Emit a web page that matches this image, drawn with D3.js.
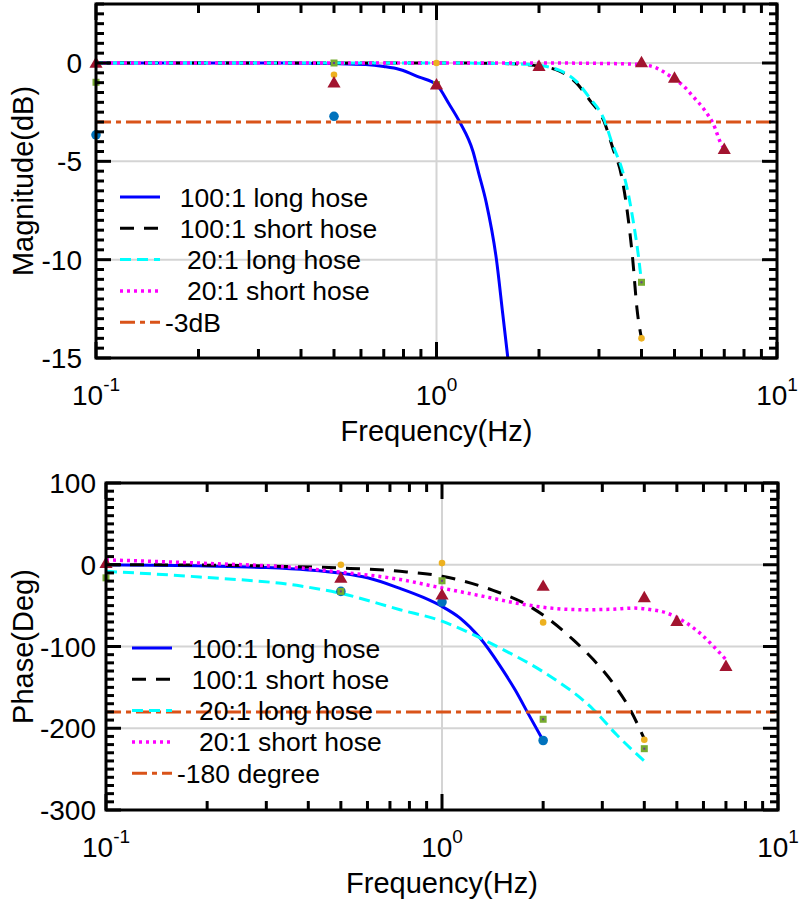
<!DOCTYPE html>
<html><head><meta charset="utf-8">
<script src="https://d3js.org/d3.v7.min.js"></script>
<style>
body{margin:0;background:#fff;}
text{font-family:"Liberation Sans",Arial,sans-serif;fill:#000;}
</style></head>
<body><svg id="chart" width="800" height="899"></svg>
<script>
// ---------------- DATA ----------------
const xTickVals = [0.1, 1, 10];
const xTickLabels = [["10","-1"],["10","0"],["10","1"]];
const magTicks = [0, -5, -10, -15];
const phaseTicks = [100, 0, -100, -200, -300];
const legendMag = ["  100:1 long hose", "  100:1 short hose", "   20:1 long hose", "   20:1 short hose", "-3dB"];
const legendPhase = ["  100:1 long hose", "  100:1 short hose", "   20:1 long hose", "   20:1 short hose", "-180 degree"];

// Magnitude model curves (Hz, dB)
const magF100L = [0.1, 0.2, 0.3, 0.4, 0.5, 0.62, 0.7, 0.78, 0.89, 1.0, 1.09, 1.17, 1.28, 1.33, 1.4, 1.5, 1.565, 1.62];
const magV100L = [0, 0, 0, -0.01, -0.03, -0.08, -0.18, -0.33, -0.72, -1.1, -2.1, -3.0, -4.5, -5.6, -7.1, -10.0, -12.75, -15];
const magF100S = [0.1, 0.5, 1.0, 1.5, 1.8, 2.0, 2.3, 2.57, 2.81, 3.11, 3.29, 3.49, 3.61, 3.77, 3.88, 4.0];
const magV100S = [0, 0, 0, -0.02, -0.07, -0.16, -0.42, -1.0, -1.86, -3.0, -4.3, -5.7, -7.2, -10.0, -12.5, -14.0];
const magF20L = [0.1, 0.5, 1.0, 1.5, 1.8, 2.0, 2.3, 2.57, 2.81, 3.11, 3.29, 3.49, 3.61, 3.77, 3.93, 4.0];
const magV20L = [0, 0, 0, -0.02, -0.06, -0.12, -0.38, -0.92, -1.75, -2.9, -4.15, -5.3, -6.2, -7.9, -10.0, -11.15];
const magF20S = [0.1, 1, 2, 3, 3.5, 4.0, 4.42, 4.94, 5.3, 5.66, 6.1, 6.48, 6.93, 7.0];
const magV20S = [0, 0, 0, -0.02, -0.04, -0.08, -0.25, -0.76, -1.15, -1.69, -2.35, -3.05, -4.24, -4.3];
const magRefLevel = -3;

// Magnitude measured points
const magBlueF = [0.1, 0.5];            const magBlueV = [-3.65, -2.71];
const magOrangeF = [0.5, 1.0, 4.0];     const magOrangeV = [-0.6, 0, -14.0];
const magGreenF = [0.1, 0.5, 1.0, 4.0]; const magGreenV = [-0.98, 0, -1.1, -11.15];
const magTriF = [0.1, 0.5, 1.0, 2.0, 4.0, 5.0, 7.0];
const magTriV = [0, -1.0, -1.1, -0.16, 0.03, -0.76, -4.38];

// Phase model curves (Hz, deg)
const phF100L = [0.1, 0.2, 0.3, 0.4, 0.5, 0.6, 0.75, 0.88, 1.0, 1.13, 1.3, 1.49, 1.65, 1.81, 2.0];
const phV100L = [0, -1.5, -3.5, -6.5, -10.5, -16, -29, -40, -51, -65, -90, -124, -153, -183, -215];
const phF100S = [0.1, 0.2, 0.3, 0.5, 0.75, 1.0, 1.39, 1.79, 2.1, 2.46, 2.82, 3.23, 3.63, 4.0];
const phV100S = [0, -0.5, -1.5, -4, -8, -14, -30, -49, -68, -92, -116, -145, -177, -213];
const phF20L = [0.1, 0.19, 0.38, 0.5, 0.75, 1.0, 1.21, 1.49, 2.0, 2.82, 3.31, 4.0];
const phV20L = [-8, -15, -26, -35, -55, -69, -83.5, -102, -131, -177, -208, -240];
const phF20S = [0.1, 0.19, 0.38, 0.5, 0.75, 1.0, 1.33, 1.67, 2.1, 2.64, 3.2, 3.71, 4.2, 4.66, 5.23, 5.87, 6.4, 7.0];
const phV20S = [6, 2, -4, -9, -18, -28.5, -38.7, -47, -53, -55, -54.5, -53, -55, -59, -69, -84, -99, -116];
const phRefLevel = -180;

// Phase measured points
const phBlueF = [0.5, 1.0, 2.0];             const phBlueV = [-32.6, -45.6, -215];
const phOrangeF = [0.5, 1.0, 2.0, 4.0];      const phOrangeV = [0, 2, -70.5, -214];
const phGreenF = [0.1, 0.5, 1.0, 2.0, 4.0];  const phGreenV = [-16, -32.6, -19.6, -189, -225];
const phTriF = [0.1, 0.5, 1.0, 2.0, 4.0, 5.0, 7.0];
const phTriV = [2, -16, -36.7, -26, -40, -69, -124];

// ---------------- DRAW ----------------
const svg = d3.select("#chart");
const zip = (a, b) => a.map((v, i) => [v, b[i]]);

const styles = [
  {color:"#0000FF", dash:null, w:3},
  {color:"#000000", dash:"14,10", w:3},
  {color:"#00FFFF", dash:"11,6", w:3},
  {color:"#FF00FF", dash:"3,4", w:3.5},
  {color:"#D95319", dash:"15,5,5,5", w:3}
];

function panel(cfg) {
  const g = svg.append("g");
  const x = d3.scaleLog().domain([0.1, 10]).range([cfg.left, cfg.right]);
  const y = d3.scaleLinear().domain(cfg.yDomain).range([cfg.bottom, cfg.top]);

  // grid
  const gridG = g.append("g").attr("stroke", "#d4d4d4").attr("stroke-width", 2);
  cfg.gridY.forEach(v => gridG.append("line").attr("x1", cfg.left).attr("x2", cfg.right).attr("y1", y(v)).attr("y2", y(v)));
  gridG.append("line").attr("x1", x(1)).attr("x2", x(1)).attr("y1", cfg.top).attr("y2", cfg.bottom);

  // curves
  const line = d3.line().x(d => x(d[0])).y(d => y(d[1])).curve(d3.curveMonotoneX);
  const clip = "clip" + cfg.id;
  g.append("clipPath").attr("id", clip).append("rect")
    .attr("x", cfg.left).attr("y", cfg.top).attr("width", cfg.right - cfg.left).attr("height", cfg.bottom - cfg.top);
  const cg = g.append("g").attr("clip-path", `url(#${clip})`);
  cfg.curves.forEach((c, i) => {
    const s = styles[i];
    cg.append("path").datum(zip(c[0], c[1])).attr("d", line)
      .attr("fill", "none").attr("stroke", s.color).attr("stroke-width", s.w)
      .attr("stroke-dasharray", s.dash);
  });
  // reference line
  const s4 = styles[4];
  cg.append("line").attr("x1", x(0.1)).attr("x2", x(9.8)).attr("y1", y(cfg.ref)).attr("y2", y(cfg.ref))
    .attr("stroke", s4.color).attr("stroke-width", s4.w).attr("stroke-dasharray", s4.dash);

  // markers
  const mg = g.append("g");
  zip(cfg.blue[0], cfg.blue[1]).forEach(d => mg.append("circle").attr("cx", x(d[0])).attr("cy", y(d[1])).attr("r", 4.8).attr("fill", "#0072BD"));
  zip(cfg.orange[0], cfg.orange[1]).forEach(d => mg.append("circle").attr("cx", x(d[0])).attr("cy", y(d[1])).attr("r", 3.3).attr("fill", "#EDB120"));
  zip(cfg.green[0], cfg.green[1]).forEach(d => {
    mg.append("rect").attr("x", x(d[0]) - 3.5).attr("y", y(d[1]) - 3.5).attr("width", 7).attr("height", 7).attr("fill", "#77AC30");
    mg.append("rect").attr("x", x(d[0]) - 1).attr("y", y(d[1]) - 1).attr("width", 2).attr("height", 2).attr("fill", "#6B3D8E");
  });
  const tri = d3.symbol().type(d3.symbolTriangle).size(75);
  zip(cfg.tri[0], cfg.tri[1]).forEach(d => mg.append("path").attr("d", tri)
    .attr("transform", `translate(${x(d[0])},${y(d[1]) + 1})`).attr("fill", "#A2142F"));

  // frame
  g.append("rect").attr("x", cfg.left).attr("y", cfg.top).attr("width", cfg.right - cfg.left).attr("height", cfg.bottom - cfg.top)
    .attr("fill", "none").attr("stroke", "#000").attr("stroke-width", 3);

  // ticks
  const tk = g.append("g").attr("stroke", "#000").attr("stroke-width", 3);
  const xMinor = [];
  [0.1, 1].forEach(b => { for (let k = 2; k <= 9; k++) xMinor.push(b * k); });
  xMinor.forEach(v => {
    tk.append("line").attr("x1", x(v)).attr("x2", x(v)).attr("y1", cfg.bottom).attr("y2", cfg.bottom - 9);
    tk.append("line").attr("x1", x(v)).attr("x2", x(v)).attr("y1", cfg.top).attr("y2", cfg.top + 9);
  });
  xTickVals.forEach(v => {
    tk.append("line").attr("x1", x(v)).attr("x2", x(v)).attr("y1", cfg.bottom).attr("y2", cfg.bottom - 16);
    tk.append("line").attr("x1", x(v)).attr("x2", x(v)).attr("y1", cfg.top).attr("y2", cfg.top + 16);
  });
  const [y0, y1] = cfg.yDomain;
  for (let v = y0; v <= y1 + 1e-9; v += cfg.yMinorStep) {
    const isMajor = cfg.yTicks.some(t => Math.abs(t - v) < 1e-6);
    const L = isMajor ? 15 : 8;
    tk.append("line").attr("x1", cfg.left).attr("x2", cfg.left + L).attr("y1", y(v)).attr("y2", y(v));
    tk.append("line").attr("x1", cfg.right).attr("x2", cfg.right - L).attr("y1", y(v)).attr("y2", y(v));
  }

  // tick labels
  xTickVals.forEach((v, i) => {
    const t = g.append("text").attr("x", x(v)).attr("y", cfg.bottom + 47).attr("text-anchor", "middle").attr("font-size", 28);
    t.append("tspan").text(xTickLabels[i][0]);
    t.append("tspan").attr("dy", -14).attr("font-size", 19).text(xTickLabels[i][1]);
  });
  cfg.yTicks.forEach(v => {
    g.append("text").attr("x", cfg.left - cfg.labelGap).attr("y", y(v)).attr("dy", "0.36em")
      .attr("text-anchor", "end").attr("font-size", 28).text(v);
  });

  // axis titles
  g.append("text").attr("x", (cfg.left + cfg.right) / 2).attr("y", cfg.bottom + 83)
    .attr("text-anchor", "middle").attr("font-size", 29).text("Frequency(Hz)");
  g.append("text").attr("transform", `translate(33,${(cfg.top + cfg.bottom) / 2}) rotate(-90)`)
    .attr("text-anchor", "middle").attr("font-size", 29).text(cfg.yTitle);

  // legend
  const lg = g.append("g");
  cfg.legend.forEach((lab, i) => {
    const s = styles[i];
    const ly = cfg.legY + i * 31.3;
    lg.append("line").attr("x1", cfg.legX).attr("x2", cfg.legX + 40).attr("y1", ly).attr("y2", ly)
      .attr("stroke", s.color).attr("stroke-width", s.w).attr("stroke-dasharray", s.dash);
    lg.append("text").attr("x", cfg.legX + 45).attr("y", ly).attr("dy", "0.36em").attr("font-size", 26.5)
      .style("white-space", "pre").text(lab);
  });
}

panel({
  id: 1, left: 96, right: 777, top: 4, bottom: 358, yDomain: [-15, 3], yMinorStep: 0.5,
  yTicks: magTicks, gridY: [0, -5, -10], labelGap: 14, yTitle: "Magnitude(dB)",
  curves: [[magF100L, magV100L], [magF100S, magV100S], [magF20L, magV20L], [magF20S, magV20S]],
  ref: magRefLevel,
  blue: [magBlueF, magBlueV], orange: [magOrangeF, magOrangeV], green: [magGreenF, magGreenV], tri: [magTriF, magTriV],
  legend: legendMag, legX: 120, legY: 197
});
panel({
  id: 2, left: 106, right: 778, top: 483, bottom: 810, yDomain: [-300, 100], yMinorStep: 10,
  yTicks: phaseTicks, gridY: [0, -100, -200], labelGap: 10, yTitle: "Phase(Deg)",
  curves: [[phF100L, phV100L], [phF100S, phV100S], [phF20L, phV20L], [phF20S, phV20S]],
  ref: phRefLevel,
  blue: [phBlueF, phBlueV], orange: [phOrangeF, phOrangeV], green: [phGreenF, phGreenV], tri: [phTriF, phTriV],
  legend: legendPhase, legX: 132, legY: 648
});
</script></body></html>
